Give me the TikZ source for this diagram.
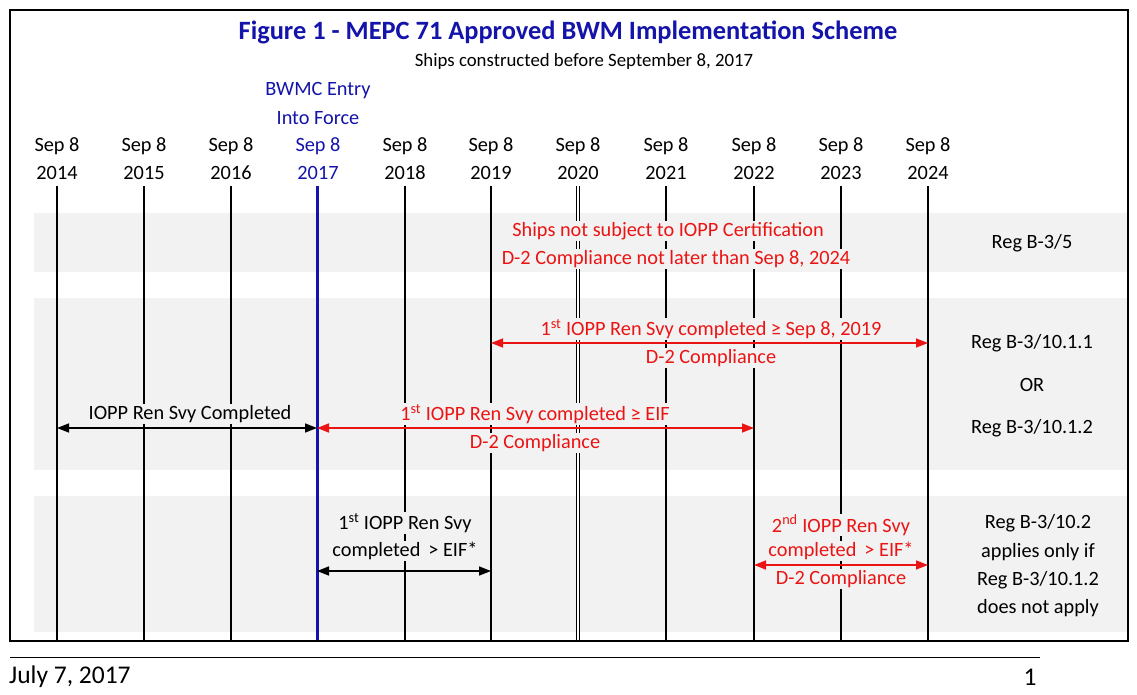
\documentclass[tikz,border=0pt]{standalone}
\usepackage{fontspec}
\setmainfont{Carlito}
\usetikzlibrary{arrows.meta}
\definecolor{band}{RGB}{242,242,242}
\definecolor{rd}{RGB}{235,20,20}
\definecolor{bl}{RGB}{20,20,170}
\begin{document}
\begin{tikzpicture}[x=1pt,y=-1pt,
  txt/.style={font=\fontsize{20.3}{20}\selectfont,inner sep=1pt},
  rtxt/.style={txt,text=rd,fill=band},
  btxt/.style={txt,fill=band},
  vl/.style={line width=1.5pt},
  rarr/.style={rd,line width=1.5pt,{Triangle[length=12pt,width=9pt]}-{Triangle[length=12pt,width=9pt]}},
  barr/.style={black,line width=1.5pt,{Triangle[length=12pt,width=9pt]}-{Triangle[length=12pt,width=9pt]}}]
\useasboundingbox (0,0) rectangle (1137,695);
\fill[white] (0,0) rectangle (1137,695);
% bands
\fill[band] (34,213) rectangle (1128,272);
\fill[band] (34,298) rectangle (1128,470);
\fill[band] (34,496) rectangle (1128,632);
% title
\node[font=\fontsize{26.4}{26}\selectfont\bfseries,text=bl] (title) at (568,32) {Figure 1 - MEPC 71 Approved BWM Implementation Scheme};
\node[txt,font=\fontsize{18.8}{18}\selectfont] (sub) at (584,61) {Ships constructed before September 8, 2017};
\node[txt,text=bl] (bw1) at (318,91) {BWMC Entry};
\node[txt,text=bl] (bw2) at (318,118) {Into Force};
% timeline
\foreach \x/\y/\n in {57/2014/a,144/2015/b,231/2016/c,405/2018/e,491/2019/f,666/2021/h,754/2022/i,841/2023/j,928/2024/k}{
  \node[txt] (s\n) at (\x,146) {Sep 8};
  \node[txt] (y\n) at (\x,173) {\y};
  \coordinate (t\n) at (\x,186);
  \coordinate (b\n) at (\x,641);
  \draw[vl] (t\n) -- (b\n);
}
\node[txt,text=bl] (sd) at (318,146) {Sep 8};
\node[txt,text=bl] (yd) at (318,173) {2017};
\coordinate (td) at (317,186); \coordinate (bd) at (317,641);
\draw[bl,line width=3pt] (td) -- (bd);
\node[txt] (sg) at (578,146) {Sep 8};
\node[txt] (yg) at (578,173) {2020};
\coordinate (tg) at (578,186); \coordinate (bg) at (578,641);
\draw[line width=0.9pt,double distance=1.6pt] (tg) -- (bg);
% band 1
\node[rtxt] (r1a) at (668,231) {Ships not subject to IOPP Certification};
\node[rtxt] (r1b) at (676,259) {D-2 Compliance not later than Sep 8, 2024};
\node[txt] (reg1) at (1032,243) {Reg B-3/5};
% band 2
\coordinate (a1) at (491,343); \coordinate (a2) at (928,343);
\node[rtxt] (r2a) at (711,329) {1\textsuperscript{st} IOPP Ren Svy completed ≥ Sep 8, 2019};
\node[rtxt] (r2b) at (711,358) {D-2 Compliance};
\draw[rarr] (a1) -- (a2);
\node[txt] (reg2) at (1032,343) {Reg B-3/10.1.1};
\node[txt] (or) at (1032,385) {OR};
\node[txt] (reg3) at (1032,428) {Reg B-3/10.1.2};
\coordinate (c1) at (57,428); \coordinate (c2) at (317,428); \coordinate (c3) at (754,428);
\node[btxt] (k1) at (190,414) {IOPP Ren Svy Completed};
\node[rtxt] (r3a) at (535,414) {1\textsuperscript{st} IOPP Ren Svy completed ≥ EIF};
\node[rtxt] (r3b) at (535,443) {D-2 Compliance};
\draw[barr] (c1) -- (c2);
\draw[rarr] (c2) -- (c3);
% band 3
\node[btxt] (k2) at (405,523) {1\textsuperscript{st} IOPP Ren Svy};
\node[btxt] (k3) at (405,551) {completed \,> EIF*};
\coordinate (d1) at (317,571); \coordinate (d2) at (491,571);
\draw[barr] (d1) -- (d2);
\node[rtxt] (r4a) at (841,525) {2\textsuperscript{nd} IOPP Ren Svy};
\node[rtxt] (r4b) at (841,551) {completed \,> EIF*};
\node[rtxt] (r4c) at (841,579) {D-2 Compliance};
\coordinate (e1) at (754,565); \coordinate (e2) at (928,565);
\draw[rarr] (e1) -- (e2);
\node[txt] (g1) at (1038,523) {Reg B-3/10.2};
\node[txt] (g2) at (1038,552) {applies only if};
\node[txt] (g3) at (1038,580) {Reg B-3/10.1.2};
\node[txt] (g4) at (1038,608) {does not apply};
% frame
\draw[line width=2pt] (10,10) rectangle (1128,641);
\draw[line width=0.8pt] (10,657) -- (1040,657);
\node[txt,anchor=west,font=\fontsize{25.5}{25}\selectfont] (date) at (8,677) {July 7, 2017};
\node[txt,font=\fontsize{25.5}{25}\selectfont] (pg) at (1030,677) {1};
\end{tikzpicture}
\end{document}
